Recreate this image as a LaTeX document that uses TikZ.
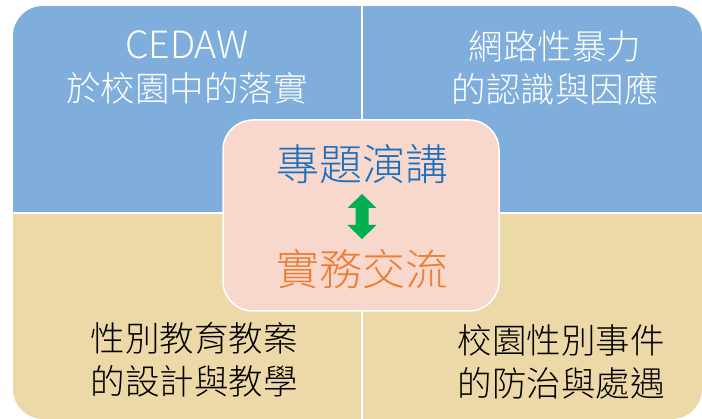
\documentclass[tikz,border=0pt]{standalone}
\usepackage{fontspec}
\setmainfont{Noto Sans CJK TC Light}
\definecolor{qblue}{HTML}{7FADDC}
\definecolor{qtan}{HTML}{EDD9A8}
\definecolor{cpink}{HTML}{F8D7CD}
\definecolor{tblue}{HTML}{1B6FBF}
\definecolor{torange}{HTML}{ED7D31}
\definecolor{agreen}{HTML}{00B050}
\begin{document}
\begin{tikzpicture}[x=1pt,y=-1pt,
  quadtxt/.style={font=\fontsize{34.5}{43}\selectfont, align=center, inner sep=0pt},
  centertxt/.style={font=\fontsize{43}{48}\selectfont, inner sep=0pt},
  centerbox/.style={fill=cpink, draw=white, line width=1.5pt, rounded corners=30pt,
    minimum width=276pt, minimum height=191pt, inner sep=0pt}]
\useasboundingbox (0,0) rectangle (702,419);
\begin{scope}
  \clip[rounded corners=30pt] (13,6) rectangle (702,419);
  \fill[qblue] (13,6) rectangle (702,213);
  \fill[qtan] (13,213) rectangle (702,419);
  \draw[white, line width=2pt] (362,6) -- (362,419);
  \draw[white, line width=2pt] (13,213) -- (702,213);
\end{scope}
\node[quadtxt, text=white] (tl) at (187,67) {{\fontsize{37.5}{43}\selectfont CEDAW}\\於校園中的落實};
\node[quadtxt, text=white] (tr) at (555,68) {網路性暴力\\的認識與因應};
\node[quadtxt, text=black] (bl) at (194,360) {性別教育教案\\的設計與教學};
\node[quadtxt, text=black] (br) at (561,362) {校園性別事件\\的防治與處遇};
\node[centerbox] (box) at (361,215.5) {};
\node[centertxt, text=tblue] (top) at (362,164) {專題演講};
\node[centertxt, text=torange] (bot) at (362,269) {實務交流};
\fill[agreen] (362,216.5) ++(0,-22.5) -- ++(14.5,14) -- ++(-8,0) -- ++(0,17) -- ++(8,0)
  -- ++(-14.5,14) -- ++(-14.5,-14) -- ++(8,0) -- ++(0,-17) -- ++(-8,0) -- cycle;
\end{tikzpicture}
\end{document}
